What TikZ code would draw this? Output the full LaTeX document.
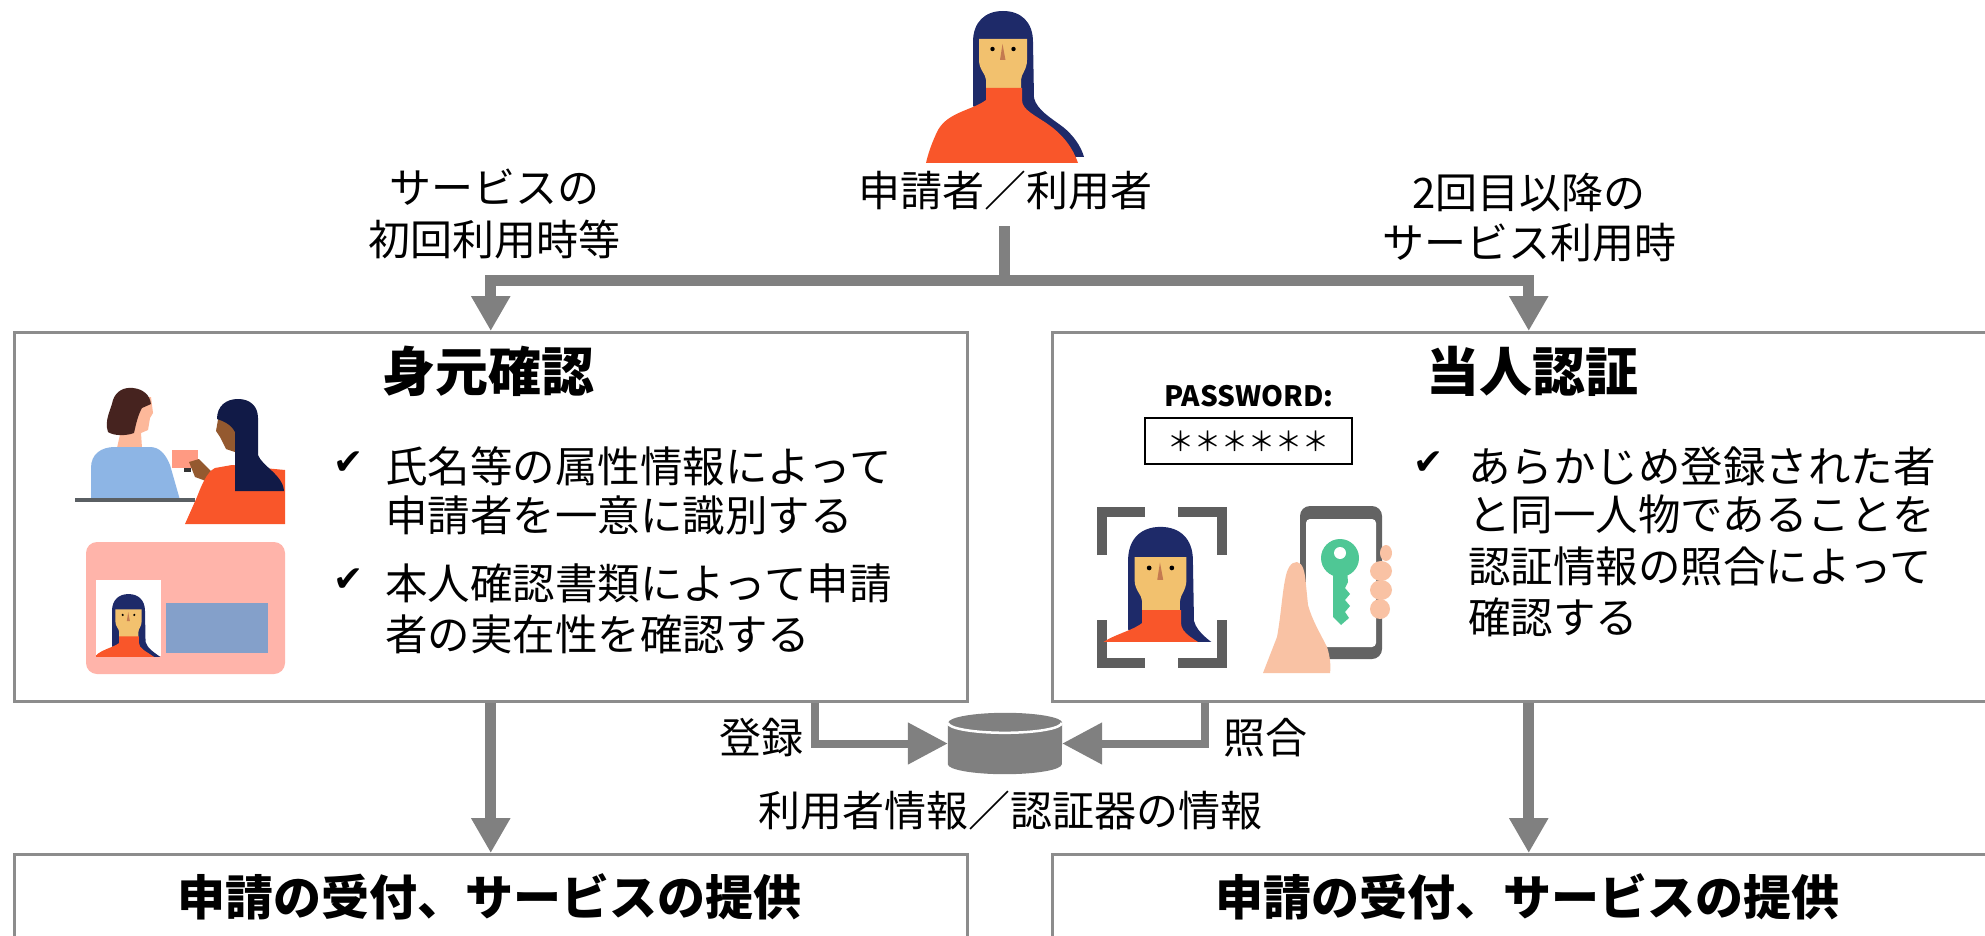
\documentclass[tikz,border=0pt]{standalone}
\usepackage{fontspec}
\setmainfont{Noto Sans CJK JP}
\newfontfamily\symfont{DejaVu Sans}
\usetikzlibrary{arrows.meta,calc}

\definecolor{conngray}{HTML}{808080}
\definecolor{panelgray}{HTML}{8C8C8C}
\definecolor{hairnavy}{HTML}{1E2A69}
\definecolor{faceskin}{HTML}{F2C16E}
\definecolor{shirt}{HTML}{F9562A}
\definecolor{nosecol}{HTML}{C47A50}
\definecolor{brownhair}{HTML}{46231F}
\definecolor{peach}{HTML}{FDB89A}
\definecolor{bluetop}{HTML}{8DB5E5}
\definecolor{counter}{HTML}{5A5F63}
\definecolor{cardpink}{HTML}{FF9A82}
\definecolor{darkhair}{HTML}{111A47}
\definecolor{darkskin}{HTML}{94592F}
\definecolor{idpink}{HTML}{FFB4AA}
\definecolor{idblue}{HTML}{84A0CA}
\definecolor{framegray}{HTML}{5E5E5E}
\definecolor{phonegray}{HTML}{636363}
\definecolor{keygreen}{HTML}{4FC795}
\definecolor{handskin}{HTML}{F9C2A4}

\tikzset{
  panel/.style={draw=panelgray, line width=2.5pt, fill=white, inner sep=0pt,
    anchor=north west, minimum width=953pt},
  heading/.style={font=\bfseries\fontsize{53}{60}\selectfont, inner sep=0pt},
  svchead/.style={font=\bfseries\fontsize{48}{56}\selectfont, inner sep=0pt},
  bodyline/.style={font=\fontsize{42.5}{51}\selectfont, inner sep=0pt, anchor=base west},
  lbl/.style={font=\fontsize{42}{50}\selectfont, inner sep=0pt, anchor=base},
  tick/.style={font=\symfont\fontsize{36}{40}\selectfont, inner sep=0pt, anchor=base west},
  conn/.style={draw=conngray, line width=11pt, line join=miter},
  link/.style={draw=conngray, line width=8pt, line join=miter},
  bigtip/.tip={Triangle[length=35pt,width=37pt]},
  midtip/.tip={Triangle[length=40pt,width=40pt]},
  pics/applicant/.style={code={
    % hair with long tail
    \fill[hairnavy] (-30,106) -- (-30,42) .. controls (-30,22) and (-18,11) .. (0,11)
      .. controls (18,11) and (30,22) .. (30,42) -- (31,98)
      .. controls (34,110) and (48,118) .. (60,127)
      .. controls (70,135) and (78,146) .. (81,157) -- (70,157) -- (0,130) -- cycle;
    % face and neck
    \fill[faceskin] (-24,39) -- (24,39) -- (24,60) .. controls (24,70) and (18,74) .. (18,80)
      -- (18,95) -- (-17,95) -- (-17,80) .. controls (-17,74) and (-24,70) .. (-24,60) -- cycle;
    % sweater
    \fill[shirt] (-17,88) -- (-17,100) .. controls (-30,110) and (-55,112) .. (-65,130)
      .. controls (-71,142) and (-75,154) .. (-77,163) -- (75,163)
      .. controls (70,148) and (60,135) .. (46,125)
      .. controls (32,115) and (19,110) .. (19,100) -- (19,88) -- cycle;
    % eyes and nose
    \fill (-10.5,49) circle (2.2);
    \fill (10.5,49) circle (2.2);
    \fill[nosecol] (-0.5,44) -- (-3,60) -- (2.5,60) -- cycle;
  }}
}

\begin{document}
\begin{tikzpicture}[x=1pt,y=-1pt]
\useasboundingbox (0,0) rectangle (1985,936);
\clip (0,0) rectangle (1985,936);

% ---------- applicant at the top ----------
\pic at (1003,0) {applicant};
\node[lbl] (applabel) at (1005,207) {申請者／利用者};
\coordinate (stem) at (1004,226);
\coordinate (branch) at (1004,280);

\node[lbl] (firstA) at (494,204) {サービスの};
\node[lbl] (firstB) at (494,255) {初回利用時等};
\node[lbl] (laterA) at (1529,208) {2回目以降の};
\node[lbl] (laterB) at (1529,258) {サービス利用時};

% ---------- panels ----------
\node[panel, minimum height=369pt] (idbox) at (13,331) {};
\node[panel, minimum height=369pt] (authbox) at (1051,331) {};
\node[panel, minimum height=160pt] (svcL) at (13,853) {};
\node[panel, minimum height=160pt] (svcR) at (1051,853) {};

\node[heading] (idtitle) at (488,371) {身元確認};
\node[heading] (authtitle) at (1532,371) {当人認証};
\node[svchead] (svcLt) at (489.5,897) {申請の受付、サービスの提供};
\node[svchead] (svcRt) at (1527.5,897) {申請の受付、サービスの提供};

% ---------- identity proofing text ----------
\node[tick] (t1) at (333,474) {✔};
\node[bodyline] (l1) at (385,482) {氏名等の属性情報によって};
\node[bodyline] (l2) at (385,531) {申請者を一意に識別する};
\node[tick] (t2) at (333,591) {✔};
\node[bodyline] (l3) at (385,599) {本人確認書類によって申請};
\node[bodyline] (l4) at (385,650) {者の実在性を確認する};

% ---------- authentication text ----------
\node[tick] (t3) at (1413,474) {✔};
\node[bodyline] (r1) at (1468,482) {あらかじめ登録された者};
\node[bodyline] (r2) at (1468,530) {と同一人物であることを};
\node[bodyline] (r3) at (1468,582) {認証情報の照合によって};
\node[bodyline] (r4) at (1468,633) {確認する};

% ---------- reception scene ----------
\fill[peach] (128,398) -- (151,397) -- (153,413) -- (150,418) -- (148,430) -- (141,433)
  -- (142,448) -- (117,448) -- (121,430) -- cycle;
\fill[brownhair] (108,432) .. controls (104,420) and (111,410) .. (113,400)
  .. controls (116,391) and (124,387) .. (133,388) .. controls (143,389) and (150,395) .. (151,404)
  -- (142,408) .. controls (138,415) and (136,424) .. (134,433) .. controls (126,436) and (114,436) .. (108,432) -- cycle;
\fill[bluetop] (91,500) -- (91,468) .. controls (91,454) and (101,447) .. (115,447) -- (150,447)
  .. controls (160,447) and (166,455) .. (170,465) -- (180,500) -- cycle;
\draw[counter, line width=3.5pt] (75,500) -- (195,500);
\fill[cardpink] (172,450) rectangle (198,468);
\fill[darkskin] (189,462) -- (199,459) -- (211,471) -- (206,481) -- (195,477) -- cycle;
\fill[black!80] (184,468) rectangle (191,472);
\fill[shirt] (185,524) -- (197,497) .. controls (202,484) and (207,472) .. (215,468)
  -- (232,465) -- (285,470) -- (285,524) -- cycle;
\fill[darkskin] (219,414) -- (235,414) -- (235,452) -- (226,449) -- (220,437) -- (216,431) -- cycle;
\fill[darkhair] (235,491) -- (235,432) .. controls (231,424) and (223,421) .. (217,419)
  .. controls (217,406) and (226,399) .. (238,399) .. controls (250,399) and (258,406) .. (258,418)
  -- (258,455) .. controls (262,466) and (283,475) .. (284,491) -- cycle;

% ---------- identity card ----------
\fill[idpink, rounded corners=11pt] (86,542) rectangle (285,674);
\fill[white] (96,580) rectangle (161,656);
\begin{scope}
  \clip (96,580) rectangle (161,656);
  \pic[scale=0.55] at (128.5,588) {applicant};
\end{scope}
\fill[idblue] (166,603) rectangle (268,653);

% ---------- password field ----------
\node[font=\bfseries\fontsize{28}{32}\selectfont, inner sep=0pt, anchor=base] (pwlabel) at (1249,406) {PASSWORD:};
\node[draw=black, line width=2.5pt, minimum width=207pt, minimum height=46pt, inner sep=0pt,
  font=\fontsize{27}{30}\selectfont] (pwbox) at (1248.5,441) {＊＊＊＊＊＊};

% ---------- face recognition ----------
\begin{scope}[framegray, line width=10pt, line join=miter]
  \draw (1102,555) -- (1102,512) -- (1145,512);
  \draw (1178,512) -- (1222,512) -- (1222,555);
  \draw (1102,620) -- (1102,663) -- (1145,663);
  \draw (1178,663) -- (1222,663) -- (1222,620);
\end{scope}
\begin{scope}
  \clip (1100,515) rectangle (1220,641);
  \pic[scale=1.08] at (1160.5,515) {applicant};
\end{scope}

% ---------- phone with key ----------
\fill[phonegray, rounded corners=10pt] (1300,506) rectangle (1382,659);
\fill[white, rounded corners=4pt] (1306,519) rectangle (1376,647);
\fill[keygreen] (1340,558) circle (19);
\fill[keygreen] (1333,570) -- (1333,617) -- (1341,625) -- (1349,618) -- (1345,612) -- (1350,606)
  -- (1345,600) -- (1350,594) -- (1345,588) -- (1348,582) -- (1347,570) -- cycle;
\fill[white] (1340,553) circle (6);
\fill[handskin] (1263,673) -- (1277,637) .. controls (1281,615) and (1282,595) .. (1285,580)
  .. controls (1287,568) and (1291,562) .. (1297,562) .. controls (1303,563) and (1305,572) .. (1306,585)
  -- (1308,605) .. controls (1312,620) and (1320,633) .. (1327,647)
  .. controls (1330,656) and (1331,666) .. (1330,673) -- cycle;
\fill[handskin] (1386,553) ellipse [x radius=6, y radius=8];
\fill[handskin] (1381,571) ellipse [x radius=11, y radius=10];
\fill[handskin] (1381,590) ellipse [x radius=11, y radius=10];
\fill[handskin] (1380,609) ellipse [x radius=10, y radius=10];

% ---------- database ----------
\node[minimum width=114pt, minimum height=61pt, inner sep=0pt] (db) at (1005,743.5) {};
\fill[conngray] ($(db.north west)+(0,10)$) -- ($(db.south west)+(0,-10)$)
  arc[start angle=180, end angle=0, x radius=57, y radius=10]
  -- ($(db.north east)+(0,10)$)
  arc[start angle=0, end angle=-180, x radius=57, y radius=10] -- cycle;
\draw[white, line width=2.5pt] ($(db.north west)+(0,10)$)
  arc[start angle=180, end angle=0, x radius=57, y radius=10];
\node[lbl] (dblabel) at (1010,826) {利用者情報／認証器の情報};
\node[lbl] (reglabel) at (761,753) {登録};
\node[lbl] (chklabel) at (1265,753) {照合};

% ---------- connectors ----------
\coordinate (regx) at (815,742);
\coordinate (chkx) at (1205,742);
\draw[conn] (stem) -- (branch);
\draw[conn, bigtip-bigtip] (idbox.north) -- (idbox.north |- branch) -- (authbox.north |- branch) -- (authbox.north);
\draw[conn, -bigtip] (idbox.south) -- (svcL.north);
\draw[conn, -bigtip] (authbox.south) -- (svcR.north);
\draw[link, -midtip] (idbox.south -| regx) |- (db.west);
\draw[link, -midtip] (authbox.south -| chkx) |- (db.east);
\end{tikzpicture}
\end{document}
